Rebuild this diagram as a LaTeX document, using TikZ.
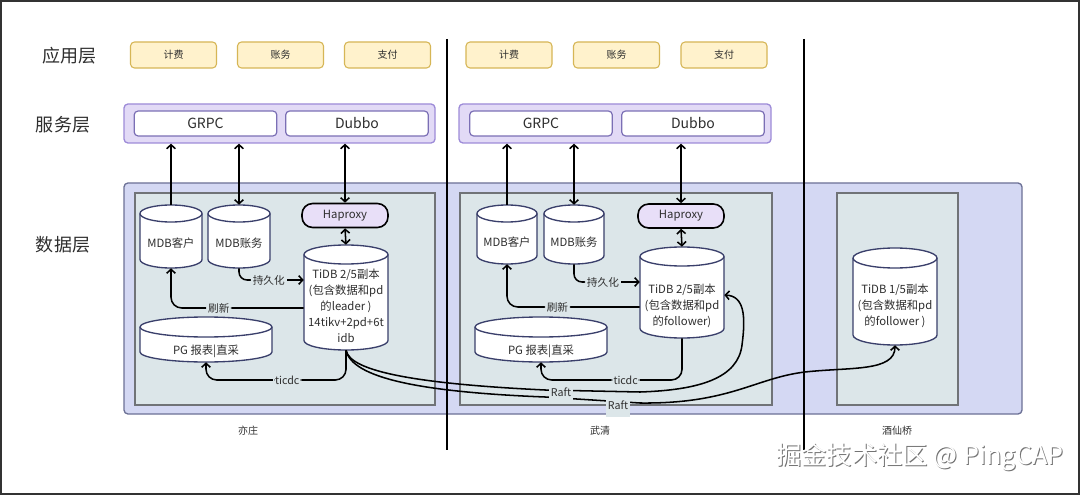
\documentclass[tikz,border=0pt]{standalone}
\usepackage{fontspec}
\setmainfont{Noto Sans CJK SC}
\usetikzlibrary{arrows.meta,fit}
\definecolor{txt}{HTML}{2E2E2E}
\definecolor{appf}{HTML}{FFF2CC}
\definecolor{appd}{HTML}{D6B656}
\definecolor{svcf}{HTML}{E2DAF6}
\definecolor{svcd}{HTML}{9D8BD8}
\definecolor{svcin}{HTML}{7B6FB5}
\definecolor{dataf}{HTML}{D4D8F3}
\definecolor{datad}{HTML}{6C7196}
\definecolor{regf}{HTML}{DCE6E9}
\definecolor{regd}{HTML}{707377}
\definecolor{cyld}{HTML}{3A3F6B}
\definecolor{hapf}{HTML}{E8DFF8}
\newcommand\dbcyl[6]{%
  \pgfmathsetmacro\dbCX{(#2+#3)/2}%
  \pgfmathsetmacro\dbRX{(#3-#2)/2}%
  \pgfmathsetmacro\dbYT{#4+#6}%
  \pgfmathsetmacro\dbYB{#5-#6}%
  \pgfmathsetmacro\dbKX{0.5523*\dbRX}%
  \pgfmathsetmacro\dbKY{0.5523*#6}%
  \node[fit={(#2,#4) (#3,#5)}, inner sep=0pt] (#1) {};
  \draw[cylsty] (#2,\dbYT) -- (#2,\dbYB)
    .. controls (#2,{\dbYB+\dbKY}) and ({\dbCX-\dbKX},#5) .. (\dbCX,#5)
    .. controls ({\dbCX+\dbKX},#5) and (#3,{\dbYB+\dbKY}) .. (#3,\dbYB)
    -- (#3,\dbYT)
    .. controls (#3,{\dbYT-\dbKY}) and ({\dbCX+\dbKX},#4) .. (\dbCX,#4)
    .. controls ({\dbCX-\dbKX},#4) and (#2,{\dbYT-\dbKY}) .. (#2,\dbYT) -- cycle;
  \draw[cylsty, fill=none] (#2,\dbYT)
    .. controls (#2,{\dbYT+\dbKY}) and ({\dbCX-\dbKX},{\dbYT+#6}) .. (\dbCX,{\dbYT+#6})
    .. controls ({\dbCX+\dbKX},{\dbYT+#6}) and (#3,{\dbYT+\dbKY}) .. (#3,\dbYT);
}
\tikzset{
  appbox/.style={draw=appd, fill=appf, rounded corners=3pt, line width=0.8pt, minimum width=64.5pt, minimum height=19.5pt, inner sep=0pt, font=\fontsize{7.5}{9}\selectfont, text=txt},
  svcbox/.style={draw=svcd, fill=svcf, rounded corners=3pt, line width=1pt, inner sep=0pt},
  svcinbox/.style={draw=svcin, fill=white, rounded corners=3pt, line width=0.9pt, minimum width=107pt, minimum height=18.75pt, inner sep=0pt, font=\fontsize{10.5}{12}\selectfont, text=txt},
  databox/.style={draw=datad, fill=dataf, rounded corners=3pt, line width=1pt, inner sep=0pt},
  regbox/.style={draw=regd, fill=regf, line width=1pt, inner sep=0pt},
  cylsty/.style={draw=cyld, fill=white, line width=1pt},
  cyltxt/.style={align=center, font=\fontsize{8.5}{12}\selectfont, text=txt, inner sep=0pt},
  hapbox/.style={draw=black, fill=hapf, rounded corners=8pt, line width=1.2pt, minimum width=64.5pt, minimum height=18pt, inner sep=0pt, font=\fontsize{8.5}{10}\selectfont, text=txt},
  layerlbl/.style={font=\fontsize{13.5}{16}\selectfont, text=txt},
  regionlbl/.style={font=\fontsize{7.5}{9}\selectfont, text=txt},
  conn/.style={line width=1.15pt, black},
  arr/.style={conn, -{Straight Barb[length=3pt,width=6.5pt]}},
  dblarr/.style={conn, {Straight Barb[length=3pt,width=6.5pt]}-{Straight Barb[length=3pt,width=6.5pt]}},
  lbl/.style={fill=regf, inner sep=1.5pt, font=\fontsize{8}{10}\selectfont, text=txt},
}
\begin{document}
\begin{tikzpicture}[x=0.75pt,y=-0.75pt]
\useasboundingbox (0,0) rectangle (1080,495);
\fill[white] (0,0) rectangle (1080,495);
\draw[line width=1.2pt, black!80] (1,1) rectangle (1079,494);

% layer labels
\node[layerlbl] (l1) at (69,56) {应用层};
\node[layerlbl] (l2) at (63,125) {服务层};
\node[layerlbl] (l3) at (63,245) {数据层};

% app boxes
\node[appbox] (a1) at (173.5,55) {计费};
\node[appbox] (a2) at (280.5,55) {账务};
\node[appbox] (a3) at (387.5,55) {支付};
\node[appbox] (a4) at (509,55) {计费};
\node[appbox] (a5) at (616.5,55) {账务};
\node[appbox] (a6) at (724,55) {支付};

% service layer
\node[svcbox, fit={(124,104) (435,143)}] (svc1) {};
\node[svcinbox] (grpc1) at (205.5,123.5) {GRPC};
\node[svcinbox] (dubbo1) at (357,123.5) {Dubbo};
\node[svcbox, fit={(459,104) (771,143)}] (svc2) {};
\node[svcinbox] (grpc2) at (541,123.5) {GRPC};
\node[svcinbox] (dubbo2) at (693,123.5) {Dubbo};

% data layer
\node[databox, fit={(124,183) (1022,414)}] (data) {};
\node[regbox, fit={(135,193) (435,405)}] (r1) {};
\node[regbox, fit={(460,193) (772,405)}] (r2) {};
\node[regbox, fit={(837,193) (958,405)}] (r3) {};

% region 1
\dbcyl{mdbc1}{140}{202}{205}{268}{8.5}
\node[cyltxt] (mdbc1t) at (171,243) {MDB客户};
\dbcyl{mdbz1}{208}{270}{205}{268}{8.5}
\node[cyltxt] (mdbz1t) at (239,243) {MDB账务};
\dbcyl{tidb1}{304}{388}{245}{350}{9.5}
\node[cyltxt] (tidb1t) at (346,306) {TiDB 2/5副本\\(包含数据和pd\\的leader )\\14tikv+2pd+6t\\idb};
\dbcyl{pg1}{140}{272}{317}{362}{10}
\node[cyltxt] (pg1t) at (206,351) {PG 报表|直采};
\node[hapbox] (hap1) at (345,215.5) {Haproxy};

% region 2
\dbcyl{mdbc2}{477}{537}{205}{264}{8.5}
\node[cyltxt] (mdbc2t) at (507,242) {MDB客户};
\dbcyl{mdbz2}{544}{604}{205}{264}{8.5}
\node[cyltxt] (mdbz2t) at (574,242) {MDB账务};
\dbcyl{tidb2}{640}{724}{247}{338}{9.5}
\node[cyltxt] (tidb2t) at (682,306) {TiDB 2/5副本\\(包含数据和pd\\的follower)};
\dbcyl{pg2}{475}{607}{317}{362}{10}
\node[cyltxt] (pg2t) at (541,351) {PG 报表|直采};
\node[hapbox] (hap2) at (681,216) {Haproxy};

% region 3
\dbcyl{tidb3}{853}{937}{248}{345}{10}
\node[cyltxt] (tidb3t) at (895,306) {TiDB 1/5副本\\(包含数据和pd\\的follower )};

% region labels
\node[regionlbl] (n1) at (248,431) {亦庄};
\node[regionlbl] (n2) at (600,431) {武清};
\node[regionlbl] (n3) at (897,431) {酒仙桥};

% connectors region 1
\draw[arr] (mdbc1.north) -- (mdbc1.north |- svc1.south);
\draw[dblarr] (mdbz1.north) -- (mdbz1.north |- svc1.south);
\draw[dblarr] (hap1.north) -- (hap1.north |- svc1.south);
\draw[dblarr] (hap1.south) -- (tidb1.north);
\draw[arr, rounded corners=6pt] (mdbz1.south) |- node[lbl, pos=0.73] {持久化} (tidb1.west |- 0,280);
\draw[arr, rounded corners=8pt] (tidb1.west |- 0,308) -| node[lbl, pos=0.32] {刷新} (mdbc1.south);
\draw[arr, rounded corners=8pt] (tidb1.south) |- node[lbl, pos=0.71] {ticdc} (pg1.south |- 0,380) -- (pg1.south);

% connectors region 2
\draw[arr] (mdbc2.north) -- (mdbc2.north |- svc2.south);
\draw[dblarr] (mdbz2.north) -- (mdbz2.north |- svc2.south);
\draw[dblarr] (hap2.north) -- (hap2.north |- svc2.south);
\draw[dblarr] (hap2.south) -- (tidb2.north);
\draw[arr, rounded corners=6pt] (mdbz2.south) |- node[lbl, pos=0.72] {持久化} (tidb2.west |- 0,282);
\draw[arr, rounded corners=8pt] (tidb2.west |- 0,307) -| node[lbl, pos=0.31] {刷新} (mdbc2.south);
\draw[arr, rounded corners=8pt] (tidb2.south) |- node[lbl, pos=0.70] {ticdc} (pg2.south |- 0,380) -- (pg2.south);

% Raft connectors
\draw[arr] (tidb1.south) .. controls (350,372) and (420,384) .. (545,390) -- (640,392)
  .. controls (700,390) and (738,378) .. (742,345)
  .. controls (746,315) and (744,296) .. (tidb2.east |- 0,295);
\draw[arr] (tidb1.south) .. controls (352,378) and (420,392) .. (545,397) -- (640,403)
  .. controls (730,404) and (755,378) .. (805,372)
  .. controls (850,367) and (895,372) .. (tidb3.south);
\node[lbl, inner ysep=4pt] (raft1) at (561,392) {Raft};
\node[lbl, inner ysep=6pt] (raft2) at (618,405) {Raft};

% dividers
\draw[line width=1.1pt, black] (447,39) -- (447,450);
\draw[line width=1.1pt, black] (804,39) -- (804,450);

% watermark
\node[font=\fontsize{19}{22}\selectfont, text=black!55] (wms) at (921,458) {掘金技术社区 @ PingCAP};
\node[font=\fontsize{19}{22}\selectfont, text=white] (wm) at (920,457) {掘金技术社区 @ PingCAP};
\end{tikzpicture}
\end{document}
